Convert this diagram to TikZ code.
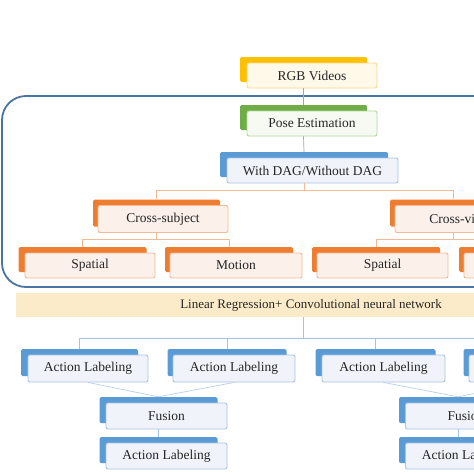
\documentclass[tikz,border=0pt]{standalone}
\usepackage{fontspec}
\setmainfont{Liberation Serif}
\definecolor{goldT}{HTML}{FFC000}
\definecolor{goldF}{HTML}{FFF9EA}
\definecolor{goldD}{HTML}{F9D88A}
\definecolor{greenT}{HTML}{70AD47}
\definecolor{greenF}{HTML}{F6FAF3}
\definecolor{greenD}{HTML}{B4D69C}
\definecolor{blueT}{HTML}{5B9BD5}
\definecolor{blueF}{HTML}{F0F4FA}
\definecolor{blueD}{HTML}{A9C2E2}
\definecolor{orangeT}{HTML}{ED7D31}
\definecolor{orangeF}{HTML}{FCF0EA}
\definecolor{orangeD}{HTML}{F4B995}
\definecolor{frameC}{HTML}{4A74A2}
\definecolor{bandC}{HTML}{FBEBC9}
\definecolor{txtC}{HTML}{262626}

\begin{document}
\begin{tikzpicture}[x=1pt,y=-1pt,
        front/.style={rectangle, rounded corners=2pt, line width=0.9pt, inner sep=0pt,
          text=txtC, font=\fontsize{13.5}{16}\selectfont},
        tab/.style={rectangle, rounded corners=1.5pt, inner sep=0pt},
        gline/.style={draw=black!35, line width=0.7pt},
        oline/.style={draw=orangeD, line width=0.9pt},
        bline/.style={draw=blueD, line width=0.9pt},
        fline/.style={draw=blueD!80, line width=0.7pt}]
        \useasboundingbox (0,0) rectangle (474,474);
        \clip (0,0) rectangle (474,474);
        \fill [white] (0,0) rectangle (474,474);
        % frame round the pose part
        \draw [frameC, line width=1.8pt, rounded corners=24pt] (2,96) rectangle (560,287);
        % top column
        \node [tab, fill=goldT, minimum width=127pt, minimum height=25pt] (rgbT) at (303.5,69.5) {};
        \node [front, fill=goldF, draw=goldD, minimum width=130pt, minimum height=25pt] (rgb) at (312,75.5) {RGB Videos};
        \node [tab, fill=greenT, minimum width=127pt, minimum height=25pt] (poseT) at (303.5,117.5) {};
        \node [front, fill=greenF, draw=greenD, minimum width=130pt, minimum height=25pt] (pose) at (312,123.5) {Pose Estimation};
        \node [tab, fill=blueT, minimum width=168pt, minimum height=25pt] (dagT) at (304,164.5) {};
        \node [front, fill=blueF, draw=blueD, minimum width=171pt, minimum height=25pt] (dag) at (312.5,170.5) {With DAG/Without DAG};
        % orange level
        \node [tab, fill=orangeT, minimum width=127pt, minimum height=27pt] (csubT) at (156.5,213) {};
        \node [front, fill=orangeF, draw=orangeD, minimum width=130pt, minimum height=27pt] (csub) at (163,219) {Cross-subject};
        \node [tab, fill=orangeT, minimum width=127pt, minimum height=27pt] (cviewT) at (453.5,213) {};
        \node [front, fill=orangeF, draw=orangeD, minimum width=130pt, minimum height=27pt] (cview) at (460,219) {Cross-view};
        \node [tab, fill=orangeT, minimum width=128pt, minimum height=25pt] (spa1T) at (82.5,259.5) {};
        \node [front, fill=orangeF, draw=orangeD, minimum width=130pt, minimum height=25pt] (spa1) at (90,265.5) {Spatial};
        \node [tab, fill=orangeT, minimum width=128pt, minimum height=25pt] (mot1T) at (229,259.5) {};
        \node [front, fill=orangeF, draw=orangeD, minimum width=132pt, minimum height=25pt] (mot1) at (236,265.5) {Motion};
        \node [tab, fill=orangeT, minimum width=128pt, minimum height=25pt] (spa2T) at (376,259.5) {};
        \node [front, fill=orangeF, draw=orangeD, minimum width=131pt, minimum height=25pt] (spa2) at (382.5,265.5) {Spatial};
        \node [tab, fill=orangeT, minimum width=128pt, minimum height=25pt] (mot2T) at (523,259.5) {};
        \node [front, fill=orangeF, draw=orangeD, minimum width=132pt, minimum height=25pt] (mot2) at (530,265.5) {Motion};
        % classifier band
        \node [rectangle, fill=bandC, inner sep=0pt, minimum width=590pt, minimum height=24pt,
          text=txtC, font=\fontsize{13}{16}\selectfont] (band) at (311,305) {Linear Regression+ Convolutional\ neural network};
        % blue level
        \node [tab, fill=blueT, minimum width=117pt, minimum height=27pt] (al1T) at (79.5,362.5) {};
        \node [front, fill=blueF, draw=blueD, minimum width=120pt, minimum height=27pt] (al1) at (88,368.5) {Action Labeling};
        \node [tab, fill=blueT, minimum width=119pt, minimum height=27pt] (al2T) at (227,362.5) {};
        \node [front, fill=blueF, draw=blueD, minimum width=122pt, minimum height=27pt] (al2) at (234,368.5) {Action Labeling};
        \node [tab, fill=blueT, minimum width=120pt, minimum height=27pt] (al3T) at (375.5,362.5) {};
        \node [front, fill=blueF, draw=blueD, minimum width=123pt, minimum height=27pt] (al3) at (383.5,368.5) {Action Labeling};
        \node [tab, fill=blueT, minimum width=119pt, minimum height=27pt] (al4T) at (523,362.5) {};
        \node [front, fill=blueF, draw=blueD, minimum width=122pt, minimum height=27pt] (al4) at (530,368.5) {Action Labeling};
        \node [tab, fill=blueT, minimum width=118pt, minimum height=26pt] (fus1T) at (158.5,410) {};
        \node [front, fill=blueF, draw=blueD, minimum width=121pt, minimum height=26pt] (fus1) at (166.5,416) {Fusion};
        \node [tab, fill=blueT, minimum width=118pt, minimum height=26pt] (fus2T) at (458,410) {};
        \node [front, fill=blueF, draw=blueD, minimum width=121pt, minimum height=26pt] (fus2) at (466,416) {Fusion};
        \node [tab, fill=blueT, minimum width=118pt, minimum height=26pt] (al5T) at (158.5,450) {};
        \node [front, fill=blueF, draw=blueD, minimum width=121pt, minimum height=26pt] (al5) at (166.5,456) {Action Labeling};
        \node [tab, fill=blueT, minimum width=118pt, minimum height=26pt] (al6T) at (458,450) {};
        \node [front, fill=blueF, draw=blueD, minimum width=121pt, minimum height=26pt] (al6) at (466,456) {Action Labeling};
        % connectors
        \draw [gline] (rgbT.north |- rgb.south) -- (poseT.north);
        \draw [gline] (poseT.north |- pose.south) -- (dagT.north);
        \draw [oline] (dagT.north |- dag.south) -- ++(0,7) -| (csubT.north);
        \draw [oline] (dagT.north |- dag.south) -- ++(0,7) -| (cviewT.north);
        \draw [oline] (csubT.north |- csub.south) -- ++(0,6) -| (spa1T.north);
        \draw [oline] (csubT.north |- csub.south) -- ++(0,6) -| (mot1T.north);
        \draw [oline] (cviewT.north |- cview.south) -- ++(0,6) -| (spa2T.north);
        \draw [oline] (cviewT.north |- cview.south) -- ++(0,6) -| (mot2T.north);
        \draw [bline] ([xshift=-8pt]band.south) -- ++(0,21) -| (al1T.north);
        \draw [bline] ([xshift=-8pt]band.south) -- ++(0,21) -| (al2T.north);
        \draw [bline] ([xshift=-8pt]band.south) -- ++(0,21) -| (al3T.north);
        \draw [bline] ([xshift=-8pt]band.south) -- ++(0,21) -| (al4T.north);
        \draw [fline] (al1.south) -- (fus1T.north);
        \draw [fline] (al2.south) -- (fus1T.north);
        \draw [fline] (al3.south) -- (fus2T.north);
        \draw [fline] (al4.south) -- (fus2T.north);
        \draw [bline] (fus1T.north |- fus1.south) -- (al5T.north);
        \draw [bline] (fus2T.north |- fus2.south) -- (al6T.north);
\end{tikzpicture}
\end{document}
